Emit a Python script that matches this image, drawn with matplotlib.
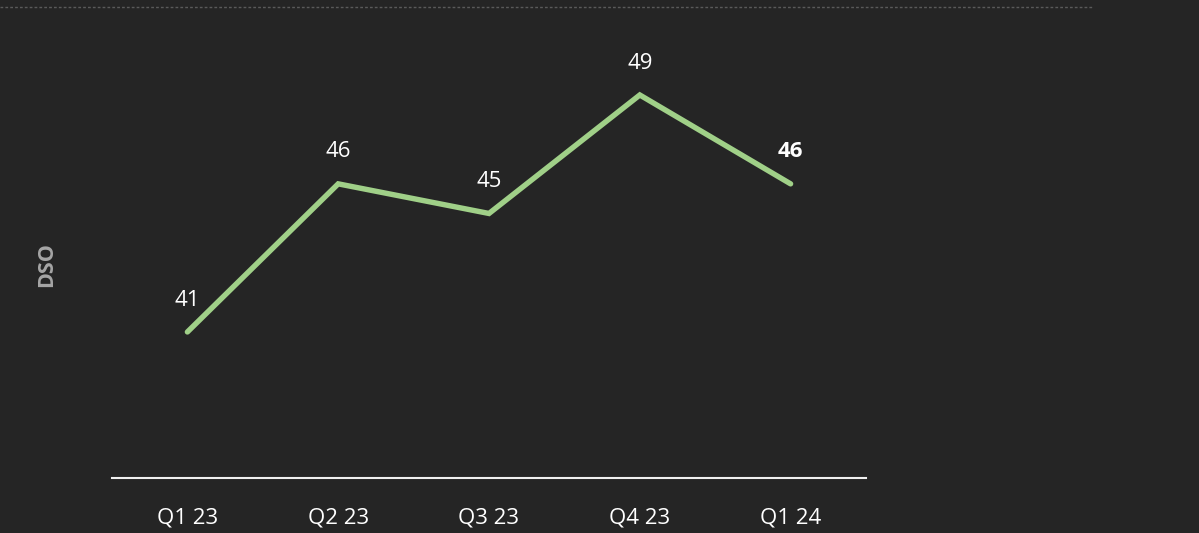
import matplotlib
matplotlib.use("Agg")
import matplotlib.pyplot as plt
from matplotlib.lines import Line2D

categories = ["Q1 23", "Q2 23", "Q3 23", "Q4 23", "Q1 24"]
dso_values = [41, 46, 45, 49, 46]
value_labels = ["41", "46", "45", "49", "46"]

BG = "#252525"
GREEN = "#a0d088"
plt.rcParams['font.family'] = ['Open Sans', 'DejaVu Sans']

W, H = 1199, 533
fig = plt.figure(figsize=(W / 100, H / 100), dpi=100, facecolor=BG)

left, right = 112 / W, 866 / W
bottom, top = (H - 478) / H, (H - 7) / H
ax = fig.add_axes([left, bottom, right - left, top - bottom], facecolor=BG)

x = list(range(len(categories)))
ax.plot(x, dso_values, color=GREEN, lw=3.9, solid_capstyle='round', solid_joinstyle='miter')
ax.set_xlim(-0.5, len(categories) - 0.5)
ax.set_ylim(36.07, 51.97)

for i, (v, lab) in enumerate(zip(dso_values, value_labels)):
    last = i == len(dso_values) - 1
    ax.annotate(lab, (i, v), xytext=(0, 23), textcoords='offset points',
                ha='center', va='center', fontsize=16, color='white',
                fontweight='bold' if last else 'normal')

ax.set_xticks(x)
ax.set_xticklabels(categories, fontsize=16, color='white')
ax.tick_params(axis='x', length=0, pad=21)
ax.set_yticks([])
for s in ['top', 'left', 'right']:
    ax.spines[s].set_visible(False)
ax.spines['bottom'].set_color('#f0f0f0')
ax.spines['bottom'].set_linewidth(1.5)

fig.text(47 / W, 1 - 265 / H, "DSO", rotation=90, ha='center', va='center',
         fontsize=15.5, fontweight='bold', color='#a6a6a6')

fig.add_artist(Line2D([0, 1092 / W], [1 - 7 / H, 1 - 7 / H], transform=fig.transFigure,
                      color='#5a5a5a', lw=1, linestyle=(0, (2, 1.5))))

fig.savefig("out.png", dpi=100, facecolor=BG)
